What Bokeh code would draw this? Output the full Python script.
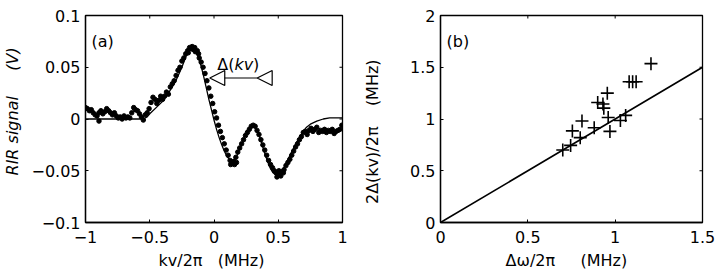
import math
from bokeh.plotting import figure
from bokeh.layouts import row
from bokeh.models import Range1d, FixedTicker, Label, Arrow, NormalHead
from bokeh.embed import file_html
from bokeh.resources import INLINE

# ---------------- panel (a) data ----------------
kv_data = [-1.00, -0.985, -0.97, -0.955, -0.94, -0.925, -0.91, -0.895, -0.895, -0.88,
           -0.865, -0.85, -0.835, -0.82, -0.805, -0.79, -0.775, -0.76, -0.745, -0.73,
           -0.715, -0.70, -0.685, -0.67, -0.655, -0.64, -0.625, -0.61, -0.595, -0.58,
           -0.565, -0.55, -0.535, -0.52, -0.505, -0.49, -0.475, -0.46, -0.445, -0.43,
           -0.415, -0.40, -0.385, -0.37, -0.355, -0.34, -0.325, -0.31, -0.295, -0.28,
           -0.265, -0.25, -0.235, -0.22, -0.205, -0.20, -0.19, -0.175, -0.17, -0.16,
           -0.15, -0.145, -0.13, -0.12, -0.115, -0.10, -0.085, -0.07, -0.055, -0.04,
           -0.025, -0.01, 0.005, 0.02, 0.035, 0.05, 0.065, 0.08, 0.095, 0.11,
           0.125, 0.13, 0.14, 0.155, 0.16, 0.17, 0.175, 0.185, 0.20, 0.215,
           0.23, 0.245, 0.26, 0.275, 0.29, 0.305, 0.32, 0.335, 0.35, 0.365,
           0.38, 0.395, 0.41, 0.425, 0.44, 0.455, 0.47, 0.485, 0.49, 0.50,
           0.505, 0.515, 0.52, 0.53, 0.54, 0.545, 0.56, 0.575, 0.59, 0.605,
           0.62, 0.635, 0.65, 0.665, 0.68, 0.695, 0.71, 0.725, 0.74, 0.755,
           0.77, 0.785, 0.80, 0.815, 0.83, 0.845, 0.86, 0.875, 0.89, 0.905,
           0.92, 0.935, 0.95, 0.965, 0.98, 0.995]
rir_data = [0.011, 0.010, 0.008, 0.009, 0.006, 0.004, 0.003, 0.006, -0.002, 0.008,
            0.005, 0.007, 0.010, 0.008, 0.006, 0.004, 0.006, 0.003, 0.001, 0.002,
            0.000, 0.003, 0.001, 0.002, 0.001, 0.006, 0.011, 0.009, 0.008, 0.005,
            0.002, -0.001, 0.004, 0.006, 0.010, 0.016, 0.021, 0.019, 0.015, 0.018,
            0.022, 0.019, 0.022, 0.026, 0.024, 0.031, 0.034, 0.037, 0.042, 0.047,
            0.050, 0.056, 0.059, 0.063, 0.066, 0.064, 0.069, 0.068, 0.070, 0.067,
            0.069, 0.065, 0.066, 0.063, 0.059, 0.055, 0.050, 0.044, 0.037, 0.030,
            0.022, 0.015, 0.007, 0.001, -0.006, -0.012, -0.018, -0.024, -0.030, -0.035,
            -0.040, -0.044, -0.043, -0.041, -0.044, -0.037, -0.042, -0.032, -0.028, -0.024,
            -0.020, -0.016, -0.013, -0.010, -0.007, -0.006, -0.007, -0.011, -0.015, -0.020,
            -0.025, -0.030, -0.035, -0.040, -0.044, -0.047, -0.050, -0.052, -0.056, -0.054,
            -0.050, -0.052, -0.055, -0.051, -0.052, -0.049, -0.045, -0.042, -0.039, -0.035,
            -0.031, -0.027, -0.024, -0.020, -0.017, -0.013, -0.012, -0.015, -0.011, -0.009,
            -0.012, -0.010, -0.008, -0.013, -0.011, -0.012, -0.010, -0.013, -0.011, -0.012,
            -0.010, -0.014, -0.012, -0.011, -0.010, -0.006]

kv_fit = [-1.0, -0.9, -0.8, -0.7, -0.6, -0.55, -0.52, -0.5, -0.45, -0.4,
          -0.35, -0.3, -0.25, -0.22, -0.2, -0.18, -0.16, -0.14, -0.12, -0.1,
          -0.08, -0.06, -0.04, -0.02, 0.0, 0.02, 0.04, 0.06, 0.08, 0.1,
          0.12, 0.14, 0.16, 0.18, 0.2, 0.22, 0.24, 0.26, 0.28, 0.3,
          0.32, 0.34, 0.36, 0.38, 0.4, 0.42, 0.44, 0.46, 0.48, 0.5,
          0.52, 0.54, 0.56, 0.58, 0.6, 0.62, 0.64, 0.66, 0.68, 0.7,
          0.72, 0.75, 0.8, 0.85, 0.9, 0.95, 1.0]
rir_fit = [0.0, 0.0, 0.0, 0.0, 0.0, 0.0, 0.002, 0.005, 0.011, 0.017,
           0.026, 0.036, 0.050, 0.060, 0.065, 0.068, 0.068, 0.065, 0.059, 0.051,
           0.041, 0.030, 0.019, 0.009, -0.001, -0.010, -0.018, -0.025, -0.031, -0.036,
           -0.039, -0.040, -0.039, -0.035, -0.029, -0.023, -0.017, -0.012, -0.009, -0.007,
           -0.008, -0.012, -0.019, -0.027, -0.035, -0.042, -0.048, -0.052, -0.054, -0.054,
           -0.052, -0.048, -0.043, -0.038, -0.033, -0.028, -0.023, -0.019, -0.015, -0.011,
           -0.008, -0.005, -0.002, 0.000, 0.001, 0.001, 0.001]

# ---------------- panel (b) data ----------------
dw_data = [0.70, 0.745, 0.755, 0.80, 0.81, 0.88, 0.90, 0.93, 0.935, 0.955,
           0.96, 0.97, 1.03, 1.06, 1.08, 1.10, 1.12, 1.205]
dkv_data = [0.70, 0.745, 0.885, 0.82, 0.98, 0.915, 1.16, 1.145, 1.105, 1.25,
            1.015, 0.88, 0.985, 1.035, 1.36, 1.36, 1.36, 1.535]
diag_x = [0.0, 1.5]
diag_y = [0.0, 1.5]

# ---------------- ticks ----------------
a_xticks = [-1, -0.5, 0, 0.5, 1]
a_xlabels = ["\u22121", "\u22120.5", "0", "0.5", "1"]
a_yticks = [-0.1, -0.05, 0, 0.05, 0.1]
a_ylabels = ["\u22120.1", "\u22120.05", "0", "0.05", "0.1"]
b_xticks = [0, 0.5, 1, 1.5]
b_xlabels = ["0", "0.5", "1", "1.5"]
b_yticks = [0, 0.5, 1, 1.5, 2]
b_ylabels = ["0", "0.5", "1", "1.5", "2"]

NB = "\u00a0"
a_xtitle = "kv/2\u03c0" + NB * 3 + "(MHz)" + NB
a_ytitle = NB * 3 + "RIR signal" + NB * 5 + "(V)"
b_xtitle = "\u0394\u03c9/2\u03c0" + NB * 5 + "(MHz)" + NB * 2
b_ytitle = "2\u0394(kv)/2\u03c0" + NB * 4 + "(MHz)" + NB * 5

# annotation arrow in panel (a)
arrow_y = 0.0396
arrow_left_tip, arrow_right_tip, arrow_right_base = -0.033, 0.336, 0.437

FONT = "DejaVu Sans"
FS = "16px"


def style_axis(ax, ticks, labels, title, standoff, title_standoff, italic=False):
    ax.ticker = FixedTicker(ticks=ticks)
    ax.major_label_overrides = {t: l for t, l in zip(ticks, labels)}
    ax.major_tick_in = 3
    ax.major_tick_out = 0
    ax.minor_tick_in = 0
    ax.minor_tick_out = 0
    ax.axis_line_width = 1.3
    ax.axis_line_color = "black"
    ax.major_tick_line_color = "black"
    ax.major_tick_line_width = 1
    ax.major_label_text_font = FONT
    ax.major_label_text_font_size = FS
    ax.major_label_text_color = "black"
    ax.major_label_standoff = standoff
    ax.axis_label = title
    ax.axis_label_text_font = FONT
    ax.axis_label_text_font_size = FS
    ax.axis_label_text_color = "black"
    ax.axis_label_text_font_style = "italic" if italic else "normal"
    ax.axis_label_standoff = title_standoff


def make_fig(xr, yr, left, right):
    p = figure(width=360, height=275, x_range=Range1d(*xr), y_range=Range1d(*yr),
               output_backend="svg", toolbar_location=None,
               min_border_left=left, min_border_right=right,
               min_border_top=15, min_border_bottom=53)
    p.xgrid.visible = False
    p.ygrid.visible = False
    p.outline_line_color = "black"
    p.outline_line_width = 1.3
    p.background_fill_color = "white"
    p.border_fill_color = "white"
    return p


def mirror_ticks(p, xticks, yticks, xr, yr):
    # inward tick marks on the top and right edges (half of each dash is clipped by the frame)
    p.scatter(xticks, [yr[1]] * len(xticks), marker="dash", size=6, angle=math.pi / 2,
              line_color="black", line_width=1)
    p.scatter([xr[1]] * len(yticks), yticks, marker="dash", size=6,
              line_color="black", line_width=1)


def txt(p, x, y, t, italic=False):
    p.add_layout(Label(x=x, y=y, x_units="screen", y_units="screen", text=t,
                       text_font=FONT, text_font_size=FS, text_color="black",
                       text_font_style="italic" if italic else "normal",
                       text_align="left", text_baseline="alphabetic"))


# ---------------- panel (a) ----------------
a_xr, a_yr = (-1, 1), (-0.1, 0.1)
p1 = make_fig(a_xr, a_yr, 80, 18)
style_axis(p1.xaxis[0], a_xticks, a_xlabels, a_xtitle, 8, 5)
style_axis(p1.yaxis[0], a_yticks, a_ylabels, a_ytitle, 5, 6, italic=True)
mirror_ticks(p1, a_xticks, a_yticks, a_xr, a_yr)

p1.line(kv_fit, rir_fit, line_color="black", line_width=1.3)
p1.scatter(kv_data, rir_data, marker="circle", size=4.5, color="black")

head_kw = dict(size=15, fill_color="white", line_color="black", line_width=1.2)
p1.add_layout(Arrow(end=NormalHead(**head_kw), x_start=arrow_right_tip, y_start=arrow_y,
                    x_end=arrow_left_tip, y_end=arrow_y, line_width=1.2, line_color="black"))
p1.add_layout(Arrow(end=NormalHead(**head_kw), x_start=arrow_right_base, y_start=arrow_y,
                    x_end=arrow_right_tip, y_end=arrow_y, line_width=1.2, line_color="black"))

txt(p1, 6, 181.5, "(a)")
txt(p1, 131.7, 158, "\u0394(")
txt(p1, 148.9, 158, "kv", italic=True)
txt(p1, 167.6, 158, ")")

# ---------------- panel (b) ----------------
b_xr, b_yr = (0, 1.5), (0, 2)
p2 = make_fig(b_xr, b_yr, 79, 18)
style_axis(p2.xaxis[0], b_xticks, b_xlabels, b_xtitle, 8, 5)
style_axis(p2.yaxis[0], b_yticks, b_ylabels, b_ytitle, 5, 25)
mirror_ticks(p2, b_xticks, b_yticks, b_xr, b_yr)

p2.line(diag_x, diag_y, line_color="black", line_width=1.6)
p2.scatter(dw_data, dkv_data, marker="cross", size=13, line_color="black", line_width=1.6)

txt(p2, 6, 181.5, "(b)")

layout = row(p1, p2)
open("out.html", "w", encoding="utf-8").write(file_html(layout, INLINE))
